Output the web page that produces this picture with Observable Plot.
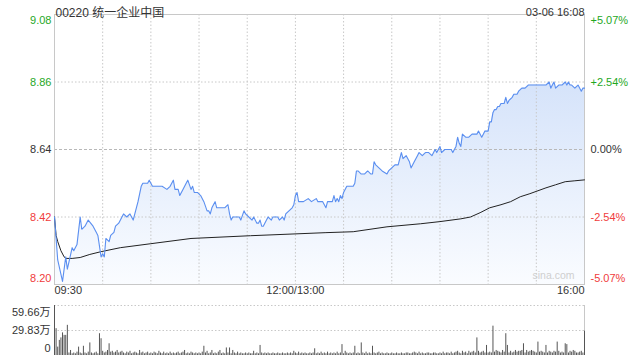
<!DOCTYPE html>
<html><head><meta charset="utf-8">
<script src="https://cdn.jsdelivr.net/npm/d3@7"></script>
<script src="https://cdn.jsdelivr.net/npm/@observablehq/plot@0.6"></script>
<style>
body{margin:0;background:#fff;}
#chart{width:640px;height:360px;position:relative;overflow:hidden;background:#fff;}
#chart svg{display:block;}
</style></head><body><div id="chart"></div>
<script>
const title = "00220 统一企业中国";
const stamp = "03-06 16:08";
const watermark = "sina.com";
const prevClose = 8.64;
const priceTicks = [8.20, 8.42, 8.64, 8.86, 9.08];
const pctTicks = ["-5.07%", "-2.54%", "0.00%", "+2.54%", "+5.07%"];
const timeTickMinutes = [0, 150, 330];
const timeTickLabels = ["09:30", "12:00/13:00", "16:00"];
const gridMinutes = [30, 60, 90, 120, 150, 180, 210, 240, 270, 300];
const volTicks = [0, 29.83, 59.66];
const volTickLabels = ["0", "29.83万", "59.66万"];

// trading minute offsets (0 = 09:30, 150 = 12:00/13:00, 330 = 16:00)
const priceMinutes = [0,2,5,7,8,11,12,14,16,17,19,21,24,26,27,29,30,31,32,34,35,37,38,40,42,43,45,47,49,52,54,55,58,59,61,64,67,70,72,74,75,77,78,80,82,83,85,86,87,89,91,93,95,96,97,98,100,101,106,108,109,110,111,115,116,118,119,121,123,124,126,127,128,129,130,132,133,135,136,139,140,142,143,144,146,148,149,150,151,152,155,158,160,163,164,167,169,170,173,174,175,176,177,178,179,180,182,186,187,188,189,191,193,195,197,198,199,200,202,204,207,208,210,212,214,215,216,217,219,220,221,222,224,226,227,229,231,233,235,237,238,240,241,243,245,247,248,250,251,252,253,254,256,258,260,261,263,264,266,267,268,270,271,272,273,274,275,276,277,278,280,281,282,283,285,286,288,289,291,293,295,298,300,301,303,306,308,309,310,311,312,314,316,318,319,320,321,322,324,326,328,329,330];
const prices = [8.42,8.28,8.21,8.29,8.25,8.32,8.31,8.33,8.42,8.38,8.39,8.41,8.39,8.37,8.36,8.29,8.30,8.29,8.35,8.34,8.36,8.37,8.39,8.40,8.42,8.43,8.42,8.43,8.41,8.47,8.52,8.53,8.53,8.54,8.52,8.52,8.52,8.51,8.52,8.54,8.51,8.51,8.49,8.51,8.53,8.54,8.51,8.52,8.50,8.50,8.49,8.47,8.44,8.44,8.43,8.45,8.47,8.45,8.45,8.46,8.43,8.41,8.42,8.42,8.41,8.44,8.43,8.42,8.41,8.42,8.40,8.40,8.41,8.39,8.39,8.41,8.42,8.41,8.42,8.42,8.41,8.42,8.41,8.43,8.44,8.45,8.46,8.49,8.50,8.47,8.47,8.48,8.47,8.48,8.47,8.47,8.45,8.47,8.47,8.49,8.47,8.48,8.47,8.49,8.48,8.50,8.52,8.52,8.53,8.57,8.57,8.56,8.56,8.57,8.56,8.56,8.60,8.59,8.58,8.57,8.56,8.57,8.58,8.59,8.59,8.61,8.63,8.61,8.62,8.61,8.60,8.58,8.60,8.62,8.63,8.62,8.63,8.63,8.62,8.64,8.63,8.65,8.63,8.64,8.64,8.64,8.63,8.65,8.68,8.66,8.65,8.69,8.68,8.68,8.69,8.69,8.69,8.70,8.68,8.69,8.70,8.70,8.73,8.73,8.76,8.77,8.77,8.78,8.78,8.79,8.79,8.81,8.79,8.80,8.81,8.82,8.82,8.83,8.84,8.84,8.85,8.85,8.85,8.85,8.85,8.85,8.86,8.84,8.85,8.86,8.84,8.85,8.85,8.86,8.85,8.86,8.85,8.85,8.84,8.85,8.83,8.84,8.84];

const avgMinutes = [0,1,2,4,6,7,11,16,22,29,41,60,85,122,169,186,207,228,240,253,259,265,271,278,284,290,296,306,312,318,324,330];
const avgPrices = [8.42,8.36,8.34,8.31,8.29,8.285,8.285,8.288,8.298,8.307,8.32,8.333,8.35,8.359,8.369,8.372,8.388,8.398,8.405,8.414,8.42,8.434,8.45,8.46,8.47,8.486,8.496,8.515,8.525,8.535,8.538,8.541];

// volume per trading minute, in 万 shares (index = minute offset)
const volumes = [
59.66,32,10,18,21,27,24,24,36,3,
6,2,3,2,4,10,3,2,11,3,
2,4,15,3,2,3,4,2,26,20,
5,3,4,6,14,4,5,3,4,6,
3,4,5,3,2,4,3,5,2,3,
4,3,2,6,3,4,2,3,4,2,
3,2,4,3,2,5,3,2,4,2,
3,2,4,2,3,2,3,4,2,3,
4,6,2,3,2,4,3,2,3,2,
3,2,4,11,3,5,2,3,6,2,
3,2,4,6,2,3,2,9,3,9,
2,6,3,2,4,2,3,2,2,3,
2,3,2,2,5,2,3,2,12,3,
2,3,2,3,2,2,3,2,2,3,
2,2,3,2,2,3,2,3,2,5,
3,2,4,2,3,2,3,2,2,3,
2,3,8,2,3,2,4,2,3,2,
4,2,3,2,3,2,4,2,3,13,
2,5,3,2,3,2,3,11,2,3,
2,15,3,2,4,2,3,2,11,3,
2,3,4,2,3,2,2,3,2,2,
3,2,2,3,2,2,3,2,2,3,
3,2,2,3,4,3,2,4,2,3,
2,2,3,3,2,2,3,3,2,2,
3,2,4,2,3,3,2,4,2,3,
4,5,3,2,5,3,4,2,5,3,
4,5,3,21,5,3,4,5,3,12,
3,4,3,35,4,6,5,4,3,6,
4,26,12,3,5,3,4,6,4,5,
5,6,14,3,6,4,5,6,5,4,
3,16,4,5,4,3,12,3,5,4,
3,5,4,16,5,3,4,3,14,13,
3,5,4,6,5,3,3,4,5,3,29
];

const GREEN = "#1fa81f", RED = "#f03c3c", DARK = "#333";
const tone = v => v > prevClose + 1e-9 ? GREEN : v < prevClose - 1e-9 ? RED : DARK;
const FONT = '"Liberation Sans", Arial, "Noto Sans CJK SC", sans-serif';

const priceData = priceMinutes.map((m, i) => ({m, p: prices[i]}));
const avgData = avgMinutes.map((m, i) => ({m, p: avgPrices[i]}));
const volData = volumes.map((v, m) => ({m, v}));
const ticks = priceTicks.map((v, i) => ({v, pct: pctTicks[i]}));
const timeTicks = timeTickMinutes.map((m, i) => ({m, label: timeTickLabels[i]}));
const vTicks = volTicks.map((v, i) => ({v, label: volTickLabels[i]}));

const gradientDefs = () => {
  const defs = d3.create("svg:defs");
  const g = defs.append("linearGradient").attr("id", "pfill").attr("x1", 0).attr("y1", 0).attr("x2", 0).attr("y2", 1);
  g.append("stop").attr("offset", "0%").attr("stop-color", "#d5e3fa");
  g.append("stop").attr("offset", "100%").attr("stop-color", "#fafcff");
  return defs.node();
};

const xDomain = [0, 330];
const yDomain = [priceTicks[0], priceTicks[priceTicks.length - 1]];

const pricePlot = Plot.plot({
  width: 640, height: 300,
  marginLeft: 54, marginRight: 56, marginTop: 14, marginBottom: 16,
  x: {domain: xDomain, axis: null},
  y: {domain: yDomain, axis: null},
  style: {fontFamily: FONT, fontSize: "11px", background: "#fff", color: DARK},
  marks: [
    gradientDefs,
    Plot.areaY(priceData, {x: "m", y1: yDomain[0], y2: "p", fill: "url(#pfill)"}),
    Plot.ruleX(gridMinutes, {x: d => d, stroke: "#c8c8c8", strokeDasharray: "1.5,2"}),
    Plot.ruleY(ticks.filter(d => d.v !== prevClose && d.v !== yDomain[0] && d.v !== yDomain[1]), {y: "v", stroke: "#c8c8c8", strokeDasharray: "1.5,2"}),
    Plot.ruleY([prevClose], {y: d => d, stroke: "#b8b8b8", strokeDasharray: "3,2"}),
    Plot.frame({stroke: "#c8c8c8"}),
    Plot.line(avgData, {x: "m", y: "p", stroke: "#222", strokeWidth: 1}),
    Plot.line(priceData, {x: "m", y: "p", stroke: "#5b8ff0", strokeWidth: 1.1}),
    // left price labels
    Plot.text(ticks.slice(1, -1), {y: "v", text: d => d.v.toFixed(2), frameAnchor: "left", textAnchor: "end", dx: -3, fill: d => tone(d.v)}),
    Plot.text(ticks.slice(0, 1), {y: "v", text: d => d.v.toFixed(2), frameAnchor: "left", textAnchor: "end", dx: -3, dy: -6, fill: d => tone(d.v)}),
    Plot.text(ticks.slice(-1), {y: "v", text: d => d.v.toFixed(2), frameAnchor: "left", textAnchor: "end", dx: -3, dy: 6, fill: d => tone(d.v)}),
    // right percent labels
    Plot.text(ticks.slice(1, -1), {y: "v", text: "pct", frameAnchor: "right", textAnchor: "start", dx: 6, fill: d => tone(d.v)}),
    Plot.text(ticks.slice(0, 1), {y: "v", text: "pct", frameAnchor: "right", textAnchor: "start", dx: 6, dy: -6, fill: d => tone(d.v)}),
    Plot.text(ticks.slice(-1), {y: "v", text: "pct", frameAnchor: "right", textAnchor: "start", dx: 6, dy: 6, fill: d => tone(d.v)}),
    // time labels
    Plot.text(timeTicks.slice(0, 1), {x: "m", text: "label", frameAnchor: "bottom", dy: 9, textAnchor: "start", fill: DARK}),
    Plot.text(timeTicks.slice(1, 2), {x: "m", text: "label", frameAnchor: "bottom", dy: 9, textAnchor: "middle", fill: DARK}),
    Plot.text(timeTicks.slice(2), {x: "m", text: "label", frameAnchor: "bottom", dy: 9, textAnchor: "end", fill: DARK}),
    // title & stamp
    Plot.text([title], {text: d => d, frameAnchor: "top-left", dx: 1, dy: -6, textAnchor: "start", fontSize: 12, fill: DARK}),
    Plot.text([stamp], {text: d => d, frameAnchor: "top-right", dy: -6, textAnchor: "end", fill: DARK}),
    Plot.text([watermark], {text: d => d, frameAnchor: "bottom-right", dx: -10, dy: -6, textAnchor: "end", fill: "#cfcfcf", fontSize: 10.5})
  ]
});

const volPlot = Plot.plot({
  width: 640, height: 60,
  marginLeft: 54, marginRight: 56, marginTop: 5, marginBottom: 5,
  x: {domain: xDomain, axis: null},
  y: {domain: [0, volTicks[volTicks.length - 1]], axis: null},
  style: {fontFamily: FONT, fontSize: "11px", background: "#fff", color: DARK},
  marks: [
    Plot.ruleY(vTicks.slice(1), {y: "v", stroke: "#c8c8c8", strokeDasharray: "1.5,2"}),
    Plot.ruleX(xDomain, {x: d => d, stroke: "#c8c8c8"}),
    Plot.ruleX(volData, {x: "m", y1: 0, y2: "v", stroke: "#555", strokeWidth: 1}),
    Plot.text(vTicks.slice(0, 1), {y: "v", text: "label", frameAnchor: "left", textAnchor: "end", dx: -4, dy: -7, fill: DARK}),
    Plot.text(vTicks.slice(1, 2), {y: "v", text: "label", frameAnchor: "left", textAnchor: "end", dx: -4, fill: DARK}),
    Plot.text(vTicks.slice(2), {y: "v", text: "label", frameAnchor: "left", textAnchor: "end", dx: -4, dy: 7, fill: DARK})
  ]
});

const root = document.getElementById("chart");
root.appendChild(pricePlot);
root.appendChild(volPlot);
</script></body></html>
